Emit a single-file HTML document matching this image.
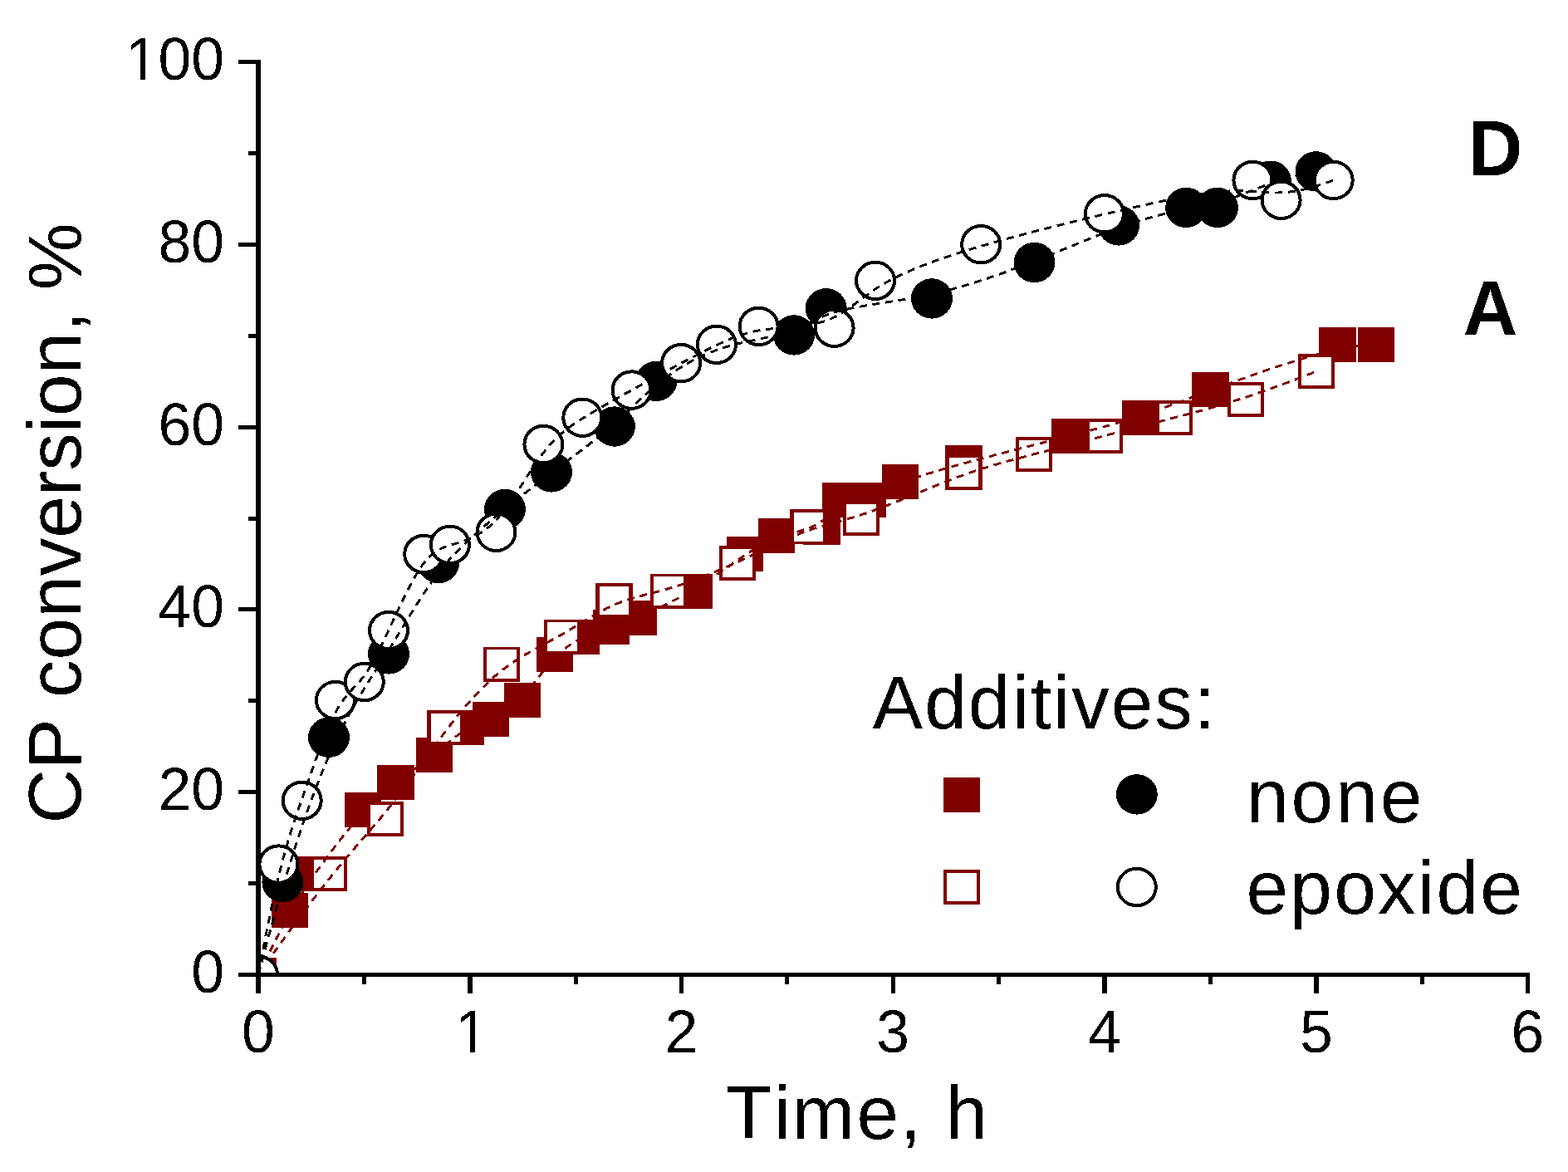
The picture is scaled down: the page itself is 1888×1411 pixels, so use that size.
<!DOCTYPE html>
<html><head><meta charset="utf-8"><title>CP conversion vs time</title>
<style>html,body{margin:0;padding:0;background:#fff;}svg{display:block;}</style></head>
<body><svg width="1888" height="1411" viewBox="0 0 1888 1411" shape-rendering="crispEdges">
<rect width="1888" height="1411" fill="#fff"/>
<defs><clipPath id="pa"><rect x="311" y="0" width="1600" height="1173.5"/></clipPath><filter id="bw" x="0" y="0" width="100%" height="100%" color-interpolation-filters="sRGB"><feComponentTransfer><feFuncA type="discrete" tableValues="0 1"/></feComponentTransfer></filter></defs>
<g clip-path="url(#pa)">
<rect x="288.9" y="1152.5" width="44.2" height="42.0" fill="#800000"/>
<rect x="326.8" y="1075.0" width="44.2" height="42.0" fill="#800000"/>
<rect x="355.9" y="1031.0" width="44.2" height="42.0" fill="#800000"/>
<rect x="414.8" y="953.8" width="44.2" height="42.0" fill="#800000"/>
<rect x="454.3" y="921.0" width="44.2" height="42.0" fill="#800000"/>
<rect x="500.5" y="888.0" width="44.2" height="42.0" fill="#800000"/>
<rect x="538.3" y="854.8" width="44.2" height="42.0" fill="#800000"/>
<rect x="569.0" y="844.5" width="44.2" height="42.0" fill="#800000"/>
<rect x="607.0" y="822.4" width="44.2" height="42.0" fill="#800000"/>
<rect x="645.6" y="766.8" width="44.2" height="42.0" fill="#800000"/>
<rect x="678.2" y="745.6" width="44.2" height="42.0" fill="#800000"/>
<rect x="713.5" y="734.4" width="44.2" height="42.0" fill="#800000"/>
<rect x="746.4" y="723.0" width="44.2" height="42.0" fill="#800000"/>
<rect x="814.1" y="690.7" width="44.2" height="42.0" fill="#800000"/>
<rect x="874.9" y="646.2" width="44.2" height="42.0" fill="#800000"/>
<rect x="912.9" y="624.3" width="44.2" height="42.0" fill="#800000"/>
<rect x="967.4" y="613.7" width="44.2" height="42.0" fill="#800000"/>
<rect x="990.4" y="580.5" width="44.2" height="42.0" fill="#800000"/>
<rect x="1023.2" y="580.9" width="44.2" height="42.0" fill="#800000"/>
<rect x="1062.0" y="558.8" width="44.2" height="42.0" fill="#800000"/>
<rect x="1138.3" y="536.2" width="44.2" height="42.0" fill="#800000"/>
<rect x="1265.6" y="503.9" width="44.2" height="42.0" fill="#800000"/>
<rect x="1350.5" y="481.7" width="44.2" height="42.0" fill="#800000"/>
<rect x="1435.4" y="448.3" width="44.2" height="42.0" fill="#800000"/>
<rect x="1588.4" y="393.9" width="44.2" height="42.0" fill="#800000"/>
<rect x="1634.9" y="393.9" width="44.2" height="42.0" fill="#800000"/>
<rect x="373.9" y="1031.0" width="44.2" height="42.0" fill="#800000"/><rect x="378.1" y="1034.9" width="35.8" height="34.2" fill="#fff"/>
<rect x="441.5" y="964.9" width="44.2" height="42.0" fill="#800000"/><rect x="445.7" y="968.8" width="35.8" height="34.2" fill="#fff"/>
<rect x="514.4" y="855.0" width="44.2" height="42.0" fill="#800000"/><rect x="518.6" y="858.9" width="35.8" height="34.2" fill="#fff"/>
<rect x="581.9" y="778.5" width="44.2" height="42.0" fill="#800000"/><rect x="586.1" y="782.4" width="35.8" height="34.2" fill="#fff"/>
<rect x="654.5" y="745.5" width="44.2" height="42.0" fill="#800000"/><rect x="658.7" y="749.4" width="35.8" height="34.2" fill="#fff"/>
<rect x="717.3" y="701.6" width="44.2" height="42.0" fill="#800000"/><rect x="721.5" y="705.5" width="35.8" height="34.2" fill="#fff"/>
<rect x="782.6" y="690.5" width="44.2" height="42.0" fill="#800000"/><rect x="786.8" y="694.4" width="35.8" height="34.2" fill="#fff"/>
<rect x="865.9" y="657.3" width="44.2" height="42.0" fill="#800000"/><rect x="870.1" y="661.2" width="35.8" height="34.2" fill="#fff"/>
<rect x="951.4" y="613.4" width="44.2" height="42.0" fill="#800000"/><rect x="955.6" y="617.3" width="35.8" height="34.2" fill="#fff"/>
<rect x="1014.9" y="602.9" width="44.2" height="42.0" fill="#800000"/><rect x="1019.1" y="606.8" width="35.8" height="34.2" fill="#fff"/>
<rect x="1138.3" y="547.5" width="44.2" height="42.0" fill="#800000"/><rect x="1142.5" y="551.4" width="35.8" height="34.2" fill="#fff"/>
<rect x="1222.7" y="526.0" width="44.2" height="42.0" fill="#800000"/><rect x="1226.9" y="529.9" width="35.8" height="34.2" fill="#fff"/>
<rect x="1307.7" y="503.7" width="44.2" height="42.0" fill="#800000"/><rect x="1311.9" y="507.6" width="35.8" height="34.2" fill="#fff"/>
<rect x="1392.0" y="481.7" width="44.2" height="42.0" fill="#800000"/><rect x="1396.2" y="485.6" width="35.8" height="34.2" fill="#fff"/>
<rect x="1477.9" y="459.7" width="44.2" height="42.0" fill="#800000"/><rect x="1482.1" y="463.6" width="35.8" height="34.2" fill="#fff"/>
<rect x="1562.8" y="426.2" width="44.2" height="42.0" fill="#800000"/><rect x="1567.0" y="430.1" width="35.8" height="34.2" fill="#fff"/>
<path d="M311.0,1173.5 L315.6,1164.1 L320.0,1155.2 L324.2,1146.9 L328.1,1139.1 L331.9,1131.8 L335.5,1124.9 L338.8,1118.4 L342.1,1112.4 L345.2,1106.7 L348.1,1101.4 L350.9,1096.4 L353.6,1091.7 L356.1,1087.3 L358.6,1083.1 L361.0,1079.2 L363.3,1075.5 L365.6,1072.0 L367.8,1068.6 L370.0,1065.3 L372.1,1062.2 L374.2,1059.1 L376.3,1056.1 L378.4,1053.1 L380.5,1050.1 L382.7,1047.1 L384.9,1044.1 L387.1,1041.1 L389.3,1038.1 L391.5,1035.1 L393.7,1032.0 L396.0,1029.0 L398.3,1026.0 L400.5,1023.0 L402.8,1020.0 L405.1,1017.0 L407.4,1014.1 L409.6,1011.2 L411.9,1008.3 L414.2,1005.5 L416.4,1002.7 L418.6,999.9 L420.9,997.2 L423.0,994.5 L425.2,991.9 L427.4,989.4 L429.5,986.9 L431.6,984.5 L433.7,982.2 L435.7,979.9 L437.7,977.8 L439.7,975.7 L441.6,973.6 L443.5,971.6 L445.4,969.7 L447.3,967.9 L449.1,966.1 L451.0,964.3 L452.8,962.6 L454.6,960.9 L456.4,959.3 L458.2,957.7 L459.9,956.2 L461.7,954.7 L463.4,953.2 L465.2,951.7 L466.9,950.3 L468.7,948.9 L470.4,947.5 L472.2,946.1 L474.0,944.7 L475.7,943.3 L477.5,942.0 L479.3,940.6 L481.1,939.2 L482.9,937.9 L484.7,936.5 L486.6,935.1 L488.4,933.7 L490.2,932.4 L492.1,931.0 L493.9,929.6 L495.8,928.2 L497.6,926.9 L499.5,925.5 L501.3,924.1 L503.2,922.7 L505.0,921.4 L506.8,920.0 L508.7,918.6 L510.5,917.2 L512.3,915.9 L514.1,914.5 L515.9,913.1 L517.7,911.7 L519.4,910.3 L521.2,909.0 L522.9,907.6 L524.7,906.2 L526.4,904.8 L528.1,903.5 L529.8,902.1 L531.4,900.7 L533.1,899.4 L534.7,898.1 L536.4,896.7 L538.0,895.4 L539.6,894.1 L541.2,892.9 L542.8,891.6 L544.3,890.4 L545.9,889.2 L547.4,888.0 L548.9,886.8 L550.4,885.7 L551.9,884.6 L553.4,883.5 L554.9,882.5 L556.3,881.5 L557.8,880.5 L559.2,879.6 L560.6,878.7 L562.0,877.9 L563.4,877.1 L564.8,876.3 L566.2,875.5 L567.6,874.8 L569.0,874.1 L570.3,873.4 L571.7,872.8 L573.0,872.1 L574.4,871.5 L575.8,870.9 L577.1,870.3 L578.5,869.7 L579.8,869.1 L581.2,868.5 L582.5,867.9 L583.9,867.3 L585.3,866.7 L586.7,866.1 L588.1,865.5 L589.5,864.8 L590.9,864.2 L592.3,863.5 L593.8,862.8 L595.2,862.1 L596.7,861.4 L598.1,860.7 L599.6,859.9 L601.1,859.1 L602.6,858.2 L604.1,857.3 L605.7,856.4 L607.2,855.5 L608.7,854.5 L610.3,853.5 L611.8,852.5 L613.4,851.4 L614.9,850.2 L616.5,849.0 L618.1,847.8 L619.7,846.5 L621.2,845.2 L622.8,843.8 L624.4,842.4 L626.0,840.9 L627.6,839.4 L629.2,837.8 L630.8,836.2 L632.4,834.5 L634.0,832.7 L635.6,830.9 L637.2,829.1 L638.8,827.2 L640.4,825.3 L642.0,823.4 L643.5,821.5 L645.1,819.5 L646.7,817.6 L648.3,815.6 L649.9,813.7 L651.4,811.7 L653.0,809.8 L654.5,807.8 L656.1,805.9 L657.6,804.0 L659.2,802.2 L660.7,800.4 L662.2,798.6 L663.7,796.8 L665.2,795.2 L666.7,793.5 L668.2,792.0 L669.6,790.5 L671.1,789.0 L672.6,787.6 L674.0,786.2 L675.4,784.9 L676.9,783.7 L678.3,782.5 L679.7,781.3 L681.1,780.2 L682.5,779.2 L683.9,778.1 L685.3,777.1 L686.7,776.2 L688.1,775.3 L689.5,774.4 L690.9,773.5 L692.3,772.7 L693.7,771.9 L695.1,771.1 L696.5,770.4 L697.9,769.7 L699.3,769.0 L700.8,768.3 L702.2,767.6 L703.6,767.0 L705.0,766.3 L706.4,765.7 L707.9,765.1 L709.3,764.5 L710.7,763.9 L712.2,763.4 L713.6,762.8 L715.1,762.3 L716.5,761.7 L718.0,761.2 L719.4,760.7 L720.8,760.2 L722.3,759.7 L723.7,759.2 L725.2,758.7 L726.6,758.2 L728.1,757.7 L729.5,757.3 L730.9,756.8 L732.4,756.3 L733.8,755.8 L735.2,755.4 L736.6,754.9 L738.0,754.4 L739.5,753.9 L740.9,753.5 L742.3,753.0 L743.7,752.5 L745.2,752.0 L746.7,751.5 L748.1,750.9 L749.6,750.4 L751.2,749.8 L752.7,749.3 L754.3,748.7 L755.9,748.1 L757.6,747.4 L759.2,746.8 L761.0,746.1 L762.7,745.4 L764.5,744.6 L766.4,743.9 L768.3,743.1 L770.2,742.3 L772.2,741.4 L774.3,740.5 L776.4,739.6 L778.6,738.6 L780.8,737.6 L783.1,736.6 L785.5,735.5 L787.9,734.4 L790.3,733.3 L792.7,732.1 L795.2,730.9 L797.8,729.7 L800.3,728.4 L802.9,727.2 L805.5,725.8 L808.2,724.5 L810.8,723.1 L813.5,721.7 L816.2,720.3 L818.9,718.9 L821.6,717.4 L824.3,715.9 L827.0,714.4 L829.7,712.8 L832.4,711.3 L835.0,709.7 L837.7,708.1 L840.4,706.4 L843.0,704.8 L845.7,703.1 L848.3,701.5 L850.9,699.8 L853.4,698.1 L856.0,696.4 L858.5,694.7 L861.0,693.0 L863.5,691.3 L866.0,689.7 L868.4,688.0 L870.8,686.3 L873.2,684.7 L875.6,683.1 L877.9,681.5 L880.2,679.9 L882.4,678.3 L884.7,676.8 L886.9,675.3 L889.0,673.8 L891.1,672.4 L893.2,671.0 L895.2,669.6 L897.2,668.3 L899.2,667.0 L901.1,665.7 L903.1,664.5 L904.9,663.3 L906.8,662.2 L908.6,661.1 L910.5,660.0 L912.3,659.0 L914.1,657.9 L915.9,657.0 L917.7,656.0 L919.4,655.1 L921.2,654.2 L923.0,653.3 L924.8,652.5 L926.6,651.6 L928.4,650.8 L930.2,650.1 L932.1,649.3 L933.9,648.6 L935.8,647.9 L937.7,647.2 L939.7,646.5 L941.7,645.9 L943.6,645.2 L945.7,644.6 L947.7,644.0 L949.7,643.4 L951.7,642.8 L953.8,642.2 L955.8,641.6 L957.9,641.0 L959.9,640.4 L961.9,639.8 L964.0,639.1 L965.9,638.5 L967.9,637.9 L969.9,637.2 L971.8,636.5 L973.7,635.8 L975.6,635.1 L977.4,634.3 L979.2,633.5 L980.9,632.7 L982.6,631.8 L984.2,630.9 L985.8,630.0 L987.4,629.0 L988.9,628.0 L990.3,627.0 L991.7,626.0 L993.1,624.9 L994.4,623.8 L995.7,622.7 L996.9,621.6 L998.2,620.5 L999.4,619.4 L1000.5,618.3 L1001.7,617.2 L1002.9,616.2 L1004.0,615.1 L1005.1,614.1 L1006.2,613.1 L1007.4,612.1 L1008.5,611.2 L1009.6,610.3 L1010.7,609.4 L1011.8,608.6 L1013.0,607.8 L1014.1,607.1 L1015.3,606.4 L1016.5,605.8 L1017.7,605.3 L1018.9,604.8 L1020.2,604.3 L1021.4,603.9 L1022.7,603.5 L1024.0,603.2 L1025.3,602.8 L1026.6,602.5 L1027.9,602.2 L1029.2,601.9 L1030.6,601.7 L1031.9,601.4 L1033.3,601.1 L1034.7,600.9 L1036.1,600.6 L1037.5,600.3 L1039.0,600.0 L1040.4,599.7 L1041.9,599.3 L1043.3,599.0 L1044.8,598.6 L1046.3,598.1 L1047.8,597.7 L1049.3,597.2 L1050.8,596.6 L1052.4,596.0 L1053.9,595.4 L1055.5,594.8 L1057.1,594.1 L1058.8,593.4 L1060.4,592.7 L1062.1,591.9 L1063.8,591.2 L1065.6,590.4 L1067.4,589.6 L1069.2,588.7 L1071.1,587.9 L1073.1,587.0 L1075.0,586.1 L1077.1,585.2 L1079.1,584.3 L1081.3,583.4 L1083.4,582.5 L1085.7,581.6 L1088.0,580.6 L1090.3,579.7 L1092.8,578.8 L1095.3,577.9 L1097.8,576.9 L1100.5,576.0 L1103.2,575.0 L1105.9,574.1 L1108.8,573.1 L1111.7,572.2 L1114.7,571.2 L1117.7,570.2 L1120.9,569.3 L1124.1,568.3 L1127.4,567.3 L1130.7,566.3 L1134.2,565.3 L1137.7,564.3 L1141.3,563.2 L1145.0,562.2 L1148.8,561.1 L1152.6,560.0 L1156.6,558.9 L1160.6,557.8 L1164.7,556.7 L1168.9,555.6 L1173.2,554.4 L1177.6,553.3 L1182.0,552.1 L1186.5,550.9 L1191.1,549.7 L1195.7,548.5 L1200.4,547.2 L1205.1,546.0 L1209.8,544.8 L1214.6,543.5 L1219.4,542.3 L1224.2,541.1 L1229.0,539.8 L1233.9,538.6 L1238.7,537.3 L1243.5,536.1 L1248.3,534.9 L1253.0,533.7 L1257.7,532.4 L1262.4,531.2 L1267.1,530.1 L1271.7,528.9 L1276.2,527.7 L1280.6,526.6 L1285.0,525.5 L1289.3,524.3 L1293.6,523.2 L1297.8,522.2 L1301.9,521.1 L1305.9,520.0 L1310.0,519.0 L1313.9,517.9 L1317.8,516.9 L1321.7,515.8 L1325.5,514.8 L1329.3,513.8 L1333.0,512.7 L1336.7,511.7 L1340.4,510.7 L1344.0,509.6 L1347.7,508.6 L1351.3,507.5 L1354.8,506.4 L1358.4,505.3 L1362.0,504.2 L1365.5,503.1 L1369.1,502.0 L1372.6,500.8 L1376.1,499.7 L1379.7,498.5 L1383.3,497.3 L1386.9,496.0 L1390.5,494.7 L1394.2,493.4 L1398.0,492.1 L1401.8,490.7 L1405.7,489.3 L1409.7,487.8 L1413.8,486.3 L1418.1,484.8 L1422.4,483.2 L1426.9,481.5 L1431.5,479.8 L1436.3,478.0 L1441.3,476.1 L1446.4,474.2 L1451.8,472.3 L1457.3,470.2 L1463.0,468.1 L1469.0,465.9 L1475.2,463.6 L1481.6,461.3 L1488.3,458.8 L1495.2,456.3 L1502.3,453.8 L1509.6,451.2 L1517.0,448.6 L1524.6,445.9 L1532.3,443.3 L1540.0,440.7 L1547.9,438.2 L1555.7,435.7 L1563.6,433.2 L1571.5,430.9 L1579.4,428.6 L1587.2,426.5 L1594.9,424.5 L1602.5,422.7 L1610.0,421.0 L1617.3,419.4 L1624.5,418.1 L1631.5,417.0 L1638.3,416.1 L1644.8,415.4 L1651.0,415.0 L1657.0,414.9" fill="none" stroke="#800000" stroke-width="2.9" stroke-dasharray="9 6.7"/>
<path d="M311.0,1173.5 L321.4,1158.8 L331.2,1144.9 L340.6,1131.9 L349.4,1119.7 L357.9,1108.3 L365.9,1097.5 L373.5,1087.5 L380.7,1078.1 L387.5,1069.4 L393.9,1061.2 L400.1,1053.5 L405.9,1046.3 L411.4,1039.6 L416.7,1033.3 L421.7,1027.3 L426.5,1021.7 L431.1,1016.4 L435.4,1011.3 L439.7,1006.5 L443.7,1001.8 L447.6,997.3 L451.5,992.8 L455.2,988.5 L458.9,984.1 L462.5,979.7 L466.0,975.4 L469.5,971.0 L473.0,966.6 L476.4,962.2 L479.8,957.8 L483.2,953.3 L486.5,948.9 L489.7,944.5 L493.0,940.2 L496.2,935.8 L499.3,931.4 L502.5,927.1 L505.6,922.8 L508.7,918.5 L511.8,914.2 L514.8,910.0 L517.8,905.8 L520.8,901.6 L523.8,897.5 L526.8,893.5 L529.7,889.4 L532.7,885.5 L535.6,881.6 L538.5,877.7 L541.4,873.9 L544.3,870.2 L547.2,866.5 L550.1,862.9 L553.0,859.3 L555.9,855.8 L558.8,852.4 L561.6,849.1 L564.5,845.8 L567.4,842.5 L570.2,839.4 L573.1,836.3 L576.0,833.2 L578.8,830.3 L581.7,827.4 L584.6,824.5 L587.5,821.8 L590.4,819.1 L593.2,816.5 L596.1,813.9 L599.0,811.5 L601.9,809.1 L604.8,806.8 L607.8,804.5 L610.7,802.3 L613.6,800.2 L616.6,798.2 L619.5,796.2 L622.5,794.3 L625.4,792.4 L628.4,790.6 L631.3,788.8 L634.3,787.1 L637.3,785.4 L640.2,783.7 L643.1,782.0 L646.1,780.4 L649.0,778.8 L651.9,777.2 L654.9,775.7 L657.8,774.1 L660.7,772.5 L663.6,771.0 L666.4,769.4 L669.3,767.9 L672.1,766.3 L675.0,764.7 L677.8,763.1 L680.6,761.4 L683.4,759.8 L686.1,758.2 L688.9,756.5 L691.6,754.8 L694.3,753.2 L697.1,751.5 L699.8,749.9 L702.5,748.2 L705.2,746.6 L707.8,745.0 L710.5,743.4 L713.2,741.8 L715.9,740.3 L718.5,738.8 L721.2,737.3 L723.9,735.9 L726.5,734.4 L729.2,733.1 L731.8,731.7 L734.5,730.5 L737.1,729.2 L739.8,728.1 L742.5,726.9 L745.2,725.9 L747.8,724.9 L750.5,723.9 L753.2,723.0 L755.9,722.1 L758.7,721.2 L761.4,720.4 L764.1,719.6 L766.9,718.8 L769.7,718.0 L772.5,717.3 L775.3,716.5 L778.1,715.8 L781.0,715.1 L783.8,714.3 L786.7,713.6 L789.6,712.8 L792.6,712.0 L795.6,711.2 L798.5,710.4 L801.6,709.6 L804.6,708.7 L807.7,707.8 L810.8,706.9 L814.0,705.9 L817.1,704.9 L820.3,703.8 L823.5,702.7 L826.8,701.6 L830.1,700.5 L833.4,699.3 L836.7,698.1 L840.0,696.8 L843.4,695.5 L846.8,694.2 L850.2,692.9 L853.6,691.5 L857.0,690.1 L860.5,688.7 L863.9,687.3 L867.4,685.8 L870.9,684.3 L874.3,682.8 L877.8,681.2 L881.3,679.7 L884.9,678.1 L888.4,676.5 L891.9,674.9 L895.4,673.3 L898.9,671.6 L902.4,670.0 L906.0,668.3 L909.5,666.7 L913.0,665.0 L916.5,663.3 L920.0,661.7 L923.4,660.1 L926.9,658.4 L930.3,656.8 L933.8,655.2 L937.2,653.7 L940.6,652.1 L943.9,650.6 L947.3,649.1 L950.6,647.7 L953.9,646.3 L957.1,644.9 L960.4,643.6 L963.6,642.3 L966.7,641.1 L969.8,640.0 L972.9,638.9 L976.0,637.8 L979.0,636.8 L982.0,635.8 L985.0,634.9 L988.0,634.0 L991.0,633.1 L993.9,632.3 L996.9,631.4 L1000.0,630.6 L1003.0,629.8 L1006.0,628.9 L1009.1,628.1 L1012.3,627.2 L1015.4,626.3 L1018.7,625.4 L1021.9,624.4 L1025.3,623.5 L1028.7,622.4 L1032.2,621.3 L1035.7,620.2 L1039.4,619.0 L1043.1,617.8 L1047.0,616.4 L1050.9,615.0 L1055.0,613.5 L1059.1,612.0 L1063.3,610.4 L1067.6,608.7 L1072.0,607.0 L1076.4,605.2 L1080.9,603.4 L1085.4,601.6 L1089.9,599.7 L1094.5,597.9 L1099.1,596.0 L1103.8,594.1 L1108.4,592.2 L1113.1,590.3 L1117.7,588.4 L1122.3,586.5 L1127.0,584.6 L1131.6,582.8 L1136.1,581.0 L1140.6,579.2 L1145.1,577.5 L1149.5,575.8 L1153.9,574.1 L1158.2,572.6 L1162.4,571.1 L1166.6,569.6 L1170.7,568.2 L1174.8,566.8 L1178.8,565.5 L1182.7,564.2 L1186.6,563.0 L1190.5,561.8 L1194.3,560.7 L1198.1,559.5 L1201.8,558.4 L1205.5,557.4 L1209.2,556.3 L1212.8,555.3 L1216.5,554.3 L1220.1,553.4 L1223.6,552.4 L1227.2,551.5 L1230.8,550.5 L1234.3,549.6 L1237.8,548.7 L1241.4,547.8 L1244.9,546.9 L1248.4,546.0 L1252.0,545.0 L1255.5,544.1 L1259.0,543.2 L1262.6,542.3 L1266.1,541.4 L1269.6,540.4 L1273.2,539.5 L1276.7,538.6 L1280.2,537.7 L1283.8,536.8 L1287.3,535.8 L1290.8,534.9 L1294.4,534.0 L1297.9,533.1 L1301.4,532.1 L1305.0,531.2 L1308.5,530.3 L1312.0,529.4 L1315.6,528.4 L1319.1,527.5 L1322.6,526.6 L1326.2,525.7 L1329.7,524.8 L1333.2,523.8 L1336.7,522.9 L1340.3,522.0 L1343.8,521.1 L1347.4,520.1 L1350.9,519.2 L1354.5,518.3 L1358.1,517.3 L1361.8,516.4 L1365.4,515.4 L1369.1,514.4 L1372.9,513.5 L1376.6,512.5 L1380.4,511.5 L1384.3,510.5 L1388.2,509.5 L1392.1,508.5 L1396.2,507.4 L1400.2,506.4 L1404.3,505.3 L1408.5,504.2 L1412.8,503.1 L1417.1,502.0 L1421.5,500.9 L1426.0,499.7 L1430.6,498.5 L1435.3,497.3 L1440.1,496.0 L1445.0,494.7 L1450.1,493.3 L1455.4,491.9 L1460.8,490.3 L1466.4,488.7 L1472.3,487.0 L1478.4,485.1 L1484.7,483.2 L1491.3,481.1 L1498.1,478.9 L1505.3,476.5 L1512.7,474.0 L1520.5,471.3 L1528.6,468.4 L1537.0,465.4 L1545.8,462.2 L1555.0,458.7 L1564.5,455.1 L1574.5,451.3 L1584.9,447.2" fill="none" stroke="#800000" stroke-width="2.9" stroke-dasharray="9 6.7"/>
<ellipse cx="340.4" cy="1062.1" rx="25.0" ry="24.2" fill="#000"/>
<ellipse cx="396.0" cy="887.7" rx="25.0" ry="24.2" fill="#000"/>
<ellipse cx="468.0" cy="787.4" rx="25.0" ry="24.2" fill="#000"/>
<ellipse cx="528.0" cy="678.1" rx="25.0" ry="24.2" fill="#000"/>
<ellipse cx="607.9" cy="613.0" rx="25.0" ry="24.2" fill="#000"/>
<ellipse cx="664.0" cy="568.4" rx="25.0" ry="24.2" fill="#000"/>
<ellipse cx="739.9" cy="513.5" rx="25.0" ry="24.2" fill="#000"/>
<ellipse cx="790.3" cy="458.8" rx="25.0" ry="24.2" fill="#000"/>
<ellipse cx="956.0" cy="403.4" rx="25.0" ry="24.2" fill="#000"/>
<ellipse cx="994.7" cy="371.3" rx="25.0" ry="24.2" fill="#000"/>
<ellipse cx="1122.0" cy="359.4" rx="25.0" ry="24.2" fill="#000"/>
<ellipse cx="1245.5" cy="316.0" rx="25.0" ry="24.2" fill="#000"/>
<ellipse cx="1347.0" cy="271.4" rx="25.0" ry="24.2" fill="#000"/>
<ellipse cx="1428.2" cy="249.9" rx="25.0" ry="24.2" fill="#000"/>
<ellipse cx="1465.9" cy="249.9" rx="25.0" ry="24.2" fill="#000"/>
<ellipse cx="1529.9" cy="217.7" rx="25.0" ry="24.2" fill="#000"/>
<ellipse cx="1584.5" cy="206.4" rx="25.0" ry="24.2" fill="#000"/>
<ellipse cx="311.0" cy="1173.5" rx="23.0" ry="22.2" fill="#fff" stroke="#000" stroke-width="4.0"/>
<ellipse cx="335.4" cy="1040.6" rx="23.0" ry="22.2" fill="#fff" stroke="#000" stroke-width="4.0"/>
<ellipse cx="363.7" cy="963.8" rx="23.0" ry="22.2" fill="#fff" stroke="#000" stroke-width="4.0"/>
<ellipse cx="403.9" cy="843.0" rx="23.0" ry="22.2" fill="#fff" stroke="#000" stroke-width="4.0"/>
<ellipse cx="438.8" cy="821.0" rx="23.0" ry="22.2" fill="#fff" stroke="#000" stroke-width="4.0"/>
<ellipse cx="468.0" cy="759.0" rx="23.0" ry="22.2" fill="#fff" stroke="#000" stroke-width="4.0"/>
<ellipse cx="510.2" cy="667.0" rx="23.0" ry="22.2" fill="#fff" stroke="#000" stroke-width="4.0"/>
<ellipse cx="541.9" cy="655.9" rx="23.0" ry="22.2" fill="#fff" stroke="#000" stroke-width="4.0"/>
<ellipse cx="597.5" cy="640.8" rx="23.0" ry="22.2" fill="#fff" stroke="#000" stroke-width="4.0"/>
<ellipse cx="654.4" cy="535.0" rx="23.0" ry="22.2" fill="#fff" stroke="#000" stroke-width="4.0"/>
<ellipse cx="701.3" cy="502.7" rx="23.0" ry="22.2" fill="#fff" stroke="#000" stroke-width="4.0"/>
<ellipse cx="760.5" cy="469.6" rx="23.0" ry="22.2" fill="#fff" stroke="#000" stroke-width="4.0"/>
<ellipse cx="820.1" cy="437.1" rx="23.0" ry="22.2" fill="#fff" stroke="#000" stroke-width="4.0"/>
<ellipse cx="862.9" cy="414.8" rx="23.0" ry="22.2" fill="#fff" stroke="#000" stroke-width="4.0"/>
<ellipse cx="913.6" cy="392.9" rx="23.0" ry="22.2" fill="#fff" stroke="#000" stroke-width="4.0"/>
<ellipse cx="1004.6" cy="394.7" rx="23.0" ry="22.2" fill="#fff" stroke="#000" stroke-width="4.0"/>
<ellipse cx="1054.0" cy="337.9" rx="23.0" ry="22.2" fill="#fff" stroke="#000" stroke-width="4.0"/>
<ellipse cx="1181.2" cy="294.2" rx="23.0" ry="22.2" fill="#fff" stroke="#000" stroke-width="4.0"/>
<ellipse cx="1329.9" cy="257.3" rx="23.0" ry="22.2" fill="#fff" stroke="#000" stroke-width="4.0"/>
<ellipse cx="1508.4" cy="217.0" rx="23.0" ry="22.2" fill="#fff" stroke="#000" stroke-width="4.0"/>
<ellipse cx="1542.6" cy="240.8" rx="23.0" ry="22.2" fill="#fff" stroke="#000" stroke-width="4.0"/>
<ellipse cx="1605.7" cy="217.0" rx="23.0" ry="22.2" fill="#fff" stroke="#000" stroke-width="4.0"/>
<path d="M311.0,1173.5 L314.7,1159.7 L318.3,1146.2 L321.9,1132.9 L325.6,1119.8 L329.2,1107.1 L332.7,1094.5 L336.3,1082.3 L339.9,1070.3 L343.4,1058.5 L346.9,1047.0 L350.4,1035.8 L353.9,1024.9 L357.3,1014.2 L360.8,1003.8 L364.2,993.6 L367.6,983.8 L371.0,974.2 L374.3,964.8 L377.7,955.8 L381.0,947.0 L384.3,938.5 L387.6,930.2 L390.9,922.3 L394.1,914.6 L397.3,907.2 L400.5,900.0 L403.7,893.2 L406.9,886.5 L410.0,880.1 L413.2,873.9 L416.3,868.0 L419.4,862.2 L422.4,856.6 L425.5,851.1 L428.5,845.9 L431.5,840.7 L434.5,835.7 L437.5,830.8 L440.4,826.1 L443.3,821.4 L446.2,816.8 L449.1,812.3 L452.0,807.8 L454.8,803.4 L457.7,799.0 L460.5,794.6 L463.2,790.3 L466.0,785.9 L468.7,781.5 L471.5,777.1 L474.2,772.7 L476.9,768.3 L479.5,764.0 L482.2,759.6 L484.9,755.2 L487.5,750.8 L490.2,746.4 L492.8,742.1 L495.5,737.8 L498.2,733.5 L500.8,729.2 L503.5,725.0 L506.2,720.8 L508.9,716.7 L511.6,712.6 L514.4,708.5 L517.1,704.5 L519.9,700.6 L522.7,696.7 L525.6,692.9 L528.4,689.1 L531.3,685.5 L534.2,681.9 L537.2,678.4 L540.2,674.9 L543.2,671.5 L546.3,668.2 L549.3,665.0 L552.4,661.8 L555.5,658.7 L558.6,655.7 L561.7,652.7 L564.8,649.8 L567.9,646.9 L571.0,644.1 L574.1,641.3 L577.1,638.6 L580.2,636.0 L583.3,633.4 L586.3,630.8 L589.3,628.3 L592.3,625.9 L595.3,623.4 L598.2,621.1 L601.1,618.7 L603.9,616.4 L606.7,614.1 L609.5,611.9 L612.3,609.7 L615.0,607.5 L617.6,605.4 L620.3,603.3 L622.9,601.2 L625.5,599.1 L628.1,597.0 L630.7,595.0 L633.3,592.9 L635.9,590.9 L638.4,588.9 L641.0,586.9 L643.6,584.9 L646.1,582.9 L648.7,580.9 L651.3,578.9 L653.9,576.9 L656.5,574.9 L659.2,572.8 L661.9,570.8 L664.6,568.7 L667.3,566.7 L670.1,564.6 L672.9,562.5 L675.7,560.4 L678.5,558.3 L681.4,556.1 L684.3,554.0 L687.2,551.8 L690.1,549.6 L693.0,547.4 L696.0,545.2 L698.9,543.0 L701.8,540.7 L704.8,538.5 L707.7,536.3 L710.6,534.0 L713.5,531.7 L716.3,529.5 L719.2,527.2 L722.0,524.9 L724.8,522.7 L727.6,520.4 L730.3,518.1 L733.0,515.8 L735.6,513.5 L738.3,511.3 L740.8,509.0 L743.4,506.7 L745.9,504.4 L748.3,502.1 L750.8,499.9 L753.2,497.6 L755.6,495.3 L758.0,493.1 L760.3,490.8 L762.7,488.6 L765.0,486.4 L767.4,484.2 L769.7,481.9 L772.1,479.7 L774.4,477.6 L776.8,475.4 L779.2,473.2 L781.6,471.1 L784.0,468.9 L786.5,466.8 L788.9,464.7 L791.5,462.6 L794.0,460.6 L796.6,458.5 L799.2,456.5 L801.9,454.5 L804.6,452.5 L807.3,450.6 L810.1,448.6 L812.9,446.7 L815.7,444.9 L818.6,443.0 L821.5,441.2 L824.5,439.4 L827.5,437.7 L830.5,436.0 L833.6,434.3 L836.7,432.7 L839.8,431.1 L843.0,429.6 L846.2,428.1 L849.5,426.7 L852.8,425.3 L856.1,423.9 L859.5,422.7 L862.9,421.4 L866.3,420.2 L869.8,419.1 L873.3,418.0 L876.8,417.0 L880.4,416.0 L883.9,415.1 L887.5,414.2 L891.0,413.3 L894.6,412.5 L898.2,411.7 L901.7,410.9 L905.2,410.1 L908.7,409.3 L912.2,408.6 L915.7,407.9 L919.1,407.1 L922.4,406.4 L925.7,405.6 L929.0,404.9 L932.1,404.1 L935.3,403.3 L938.3,402.5 L941.3,401.7 L944.1,400.8 L946.9,399.9 L949.6,399.0 L952.2,398.1 L954.8,397.1 L957.3,396.1 L959.7,395.0 L962.1,394.0 L964.4,392.9 L966.8,391.8 L969.1,390.7 L971.4,389.6 L973.7,388.5 L976.1,387.3 L978.4,386.2 L980.9,385.1 L983.3,384.0 L985.8,382.9 L988.4,381.8 L991.1,380.7 L993.9,379.6 L996.8,378.6 L999.7,377.6 L1002.8,376.6 L1006.1,375.6 L1009.5,374.7 L1013.0,373.8 L1016.7,372.9 L1020.5,372.1 L1024.5,371.2 L1028.5,370.4 L1032.7,369.7 L1037.1,368.9 L1041.5,368.1 L1046.0,367.4 L1050.6,366.6 L1055.3,365.9 L1060.1,365.1 L1065.0,364.3 L1069.9,363.6 L1074.9,362.8 L1079.9,361.9 L1085.0,361.1 L1090.1,360.2 L1095.3,359.3 L1100.5,358.4 L1105.7,357.4 L1110.9,356.3 L1116.1,355.3 L1121.4,354.1 L1126.6,353.0 L1131.8,351.7 L1137.0,350.5 L1142.2,349.1 L1147.4,347.8 L1152.6,346.3 L1157.7,344.9 L1162.8,343.4 L1168.0,341.8 L1173.1,340.3 L1178.2,338.7 L1183.2,337.0 L1188.3,335.4 L1193.3,333.7 L1198.3,331.9 L1203.2,330.2 L1208.2,328.5 L1213.1,326.7 L1217.9,324.9 L1222.8,323.1 L1227.6,321.3 L1232.4,319.5 L1237.1,317.6 L1241.8,315.8 L1246.5,314.0 L1251.1,312.1 L1255.7,310.3 L1260.3,308.5 L1264.8,306.6 L1269.3,304.8 L1273.7,303.0 L1278.1,301.2 L1282.5,299.4 L1286.8,297.7 L1291.1,295.9 L1295.4,294.2 L1299.6,292.4 L1303.8,290.7 L1307.9,289.1 L1312.0,287.4 L1316.1,285.8 L1320.1,284.2 L1324.1,282.6 L1328.1,281.1 L1332.0,279.6 L1335.9,278.1 L1339.8,276.6 L1343.6,275.2 L1347.4,273.9 L1351.2,272.6 L1354.9,271.3 L1358.5,270.1 L1362.2,268.9 L1365.8,267.7 L1369.3,266.6 L1372.8,265.5 L1376.2,264.5 L1379.6,263.5 L1383.0,262.5 L1386.3,261.6 L1389.5,260.7 L1392.7,259.8 L1395.8,259.0 L1398.9,258.3 L1401.9,257.5 L1404.8,256.8 L1407.7,256.2 L1410.5,255.6 L1413.2,255.0 L1415.8,254.5 L1418.4,253.9 L1420.9,253.5 L1423.4,253.1 L1425.8,252.7 L1428.1,252.3 L1430.3,251.9 L1432.5,251.6 L1434.7,251.3 L1436.9,251.0 L1439.0,250.7 L1441.1,250.4 L1443.2,250.0 L1445.3,249.7 L1447.4,249.3 L1449.5,249.0 L1451.6,248.6 L1453.8,248.1 L1455.9,247.6 L1458.2,247.1 L1460.5,246.6 L1462.8,245.9 L1465.2,245.3 L1467.7,244.5 L1470.2,243.7 L1472.9,242.8 L1475.6,241.8 L1478.5,240.8 L1481.4,239.7 L1484.5,238.5 L1487.6,237.2 L1490.9,235.9 L1494.4,234.5 L1497.9,233.1 L1501.6,231.6 L1505.5,230.1 L1509.5,228.5 L1513.6,226.9 L1517.9,225.3 L1522.4,223.7 L1527.1,222.1 L1531.9,220.5 L1537.0,218.8 L1542.2,217.2 L1547.6,215.6 L1553.2,214.0 L1559.0,212.4 L1565.1,210.8 L1571.3,209.3 L1577.8,207.8 L1584.5,206.4" fill="none" stroke="#000000" stroke-width="2.9" stroke-dasharray="9 6.7"/>
<path d="M311.0,1173.5 L314.0,1157.4 L316.9,1142.2 L319.7,1127.9 L322.4,1114.5 L325.0,1101.9 L327.5,1090.1 L330.0,1079.0 L332.3,1068.6 L334.6,1058.8 L336.9,1049.7 L339.0,1041.1 L341.1,1033.1 L343.2,1025.6 L345.2,1018.5 L347.1,1011.8 L349.1,1005.4 L350.9,999.4 L352.8,993.7 L354.6,988.2 L356.4,982.9 L358.1,977.8 L359.9,972.7 L361.6,967.8 L363.3,962.9 L365.0,957.9 L366.8,953.0 L368.5,948.1 L370.2,943.2 L371.9,938.3 L373.6,933.5 L375.3,928.6 L377.0,923.9 L378.6,919.1 L380.3,914.5 L382.0,909.9 L383.6,905.3 L385.3,900.9 L386.9,896.5 L388.6,892.3 L390.2,888.1 L391.9,884.1 L393.5,880.1 L395.1,876.3 L396.7,872.7 L398.3,869.1 L399.9,865.7 L401.4,862.5 L403.0,859.5 L404.6,856.6 L406.1,853.8 L407.7,851.3 L409.2,848.8 L410.7,846.5 L412.2,844.3 L413.7,842.3 L415.2,840.3 L416.7,838.4 L418.2,836.6 L419.7,834.9 L421.1,833.2 L422.6,831.6 L424.0,830.0 L425.4,828.5 L426.9,827.0 L428.3,825.5 L429.7,823.9 L431.0,822.4 L432.4,820.9 L433.8,819.3 L435.2,817.7 L436.5,816.1 L437.8,814.3 L439.2,812.5 L440.5,810.7 L441.8,808.8 L443.1,806.8 L444.4,804.7 L445.7,802.6 L447.0,800.4 L448.3,798.2 L449.6,795.9 L450.9,793.5 L452.2,791.0 L453.6,788.5 L454.9,786.0 L456.2,783.4 L457.5,780.7 L458.9,777.9 L460.2,775.1 L461.6,772.3 L463.0,769.4 L464.4,766.4 L465.8,763.4 L467.2,760.3 L468.7,757.2 L470.2,754.0 L471.7,750.8 L473.2,747.5 L474.7,744.2 L476.3,740.8 L477.9,737.5 L479.4,734.1 L481.0,730.7 L482.6,727.4 L484.3,724.0 L485.9,720.6 L487.5,717.3 L489.2,714.1 L490.8,710.8 L492.4,707.6 L494.1,704.5 L495.7,701.5 L497.3,698.5 L498.9,695.6 L500.6,692.8 L502.2,690.1 L503.8,687.5 L505.3,685.0 L506.9,682.7 L508.4,680.5 L510.0,678.4 L511.5,676.5 L513.0,674.6 L514.5,672.9 L516.0,671.4 L517.4,669.9 L518.9,668.5 L520.4,667.3 L521.9,666.1 L523.3,665.0 L524.8,664.0 L526.3,663.1 L527.8,662.2 L529.4,661.4 L530.9,660.6 L532.4,659.9 L534.0,659.2 L535.6,658.6 L537.3,658.0 L538.9,657.4 L540.6,656.9 L542.3,656.3 L544.1,655.8 L545.9,655.2 L547.7,654.7 L549.6,654.1 L551.5,653.5 L553.5,652.9 L555.5,652.3 L557.5,651.6 L559.5,650.9 L561.6,650.1 L563.7,649.3 L565.9,648.4 L568.0,647.4 L570.2,646.4 L572.4,645.3 L574.7,644.0 L576.9,642.7 L579.2,641.3 L581.5,639.8 L583.8,638.2 L586.1,636.4 L588.4,634.6 L590.7,632.6 L593.0,630.4 L595.4,628.1 L597.7,625.7 L600.1,623.1 L602.4,620.3 L604.8,617.5 L607.1,614.5 L609.4,611.4 L611.8,608.2 L614.1,604.9 L616.5,601.5 L618.8,598.1 L621.1,594.6 L623.5,591.1 L625.8,587.5 L628.1,584.0 L630.4,580.4 L632.7,576.9 L634.9,573.3 L637.2,569.8 L639.5,566.4 L641.7,563.0 L644.0,559.7 L646.2,556.4 L648.4,553.2 L650.6,550.2 L652.7,547.2 L654.9,544.4 L657.0,541.7 L659.1,539.2 L661.3,536.7 L663.4,534.3 L665.5,532.1 L667.5,529.9 L669.6,527.9 L671.7,525.9 L673.8,524.0 L675.8,522.1 L677.9,520.4 L680.0,518.7 L682.0,517.0 L684.1,515.4 L686.2,513.9 L688.3,512.4 L690.4,510.9 L692.5,509.5 L694.7,508.1 L696.8,506.7 L699.0,505.3 L701.1,503.9 L703.3,502.6 L705.6,501.2 L707.8,499.8 L710.1,498.5 L712.4,497.1 L714.7,495.7 L717.0,494.4 L719.3,493.0 L721.6,491.6 L724.0,490.3 L726.4,488.9 L728.8,487.5 L731.2,486.1 L733.6,484.8 L736.0,483.4 L738.4,482.0 L740.9,480.7 L743.3,479.3 L745.8,477.9 L748.2,476.5 L750.7,475.2 L753.1,473.8 L755.6,472.4 L758.1,471.1 L760.6,469.7 L763.0,468.3 L765.5,467.0 L768.0,465.6 L770.5,464.2 L772.9,462.9 L775.4,461.5 L777.8,460.2 L780.3,458.9 L782.7,457.5 L785.1,456.2 L787.6,454.9 L790.0,453.6 L792.3,452.3 L794.7,451.0 L797.1,449.7 L799.4,448.4 L801.7,447.2 L804.0,445.9 L806.3,444.7 L808.5,443.5 L810.8,442.3 L813.0,441.1 L815.2,440.0 L817.3,438.8 L819.4,437.7 L821.5,436.6 L823.6,435.5 L825.6,434.4 L827.6,433.3 L829.6,432.2 L831.6,431.2 L833.6,430.2 L835.5,429.2 L837.5,428.2 L839.4,427.2 L841.3,426.2 L843.2,425.2 L845.1,424.2 L847.0,423.3 L848.9,422.3 L850.8,421.4 L852.7,420.4 L854.6,419.5 L856.5,418.6 L858.4,417.6 L860.3,416.7 L862.3,415.8 L864.2,414.9 L866.2,413.9 L868.1,413.0 L870.1,412.1 L872.1,411.2 L874.2,410.3 L876.2,409.4 L878.3,408.5 L880.4,407.7 L882.6,406.8 L884.8,406.0 L887.0,405.2 L889.3,404.4 L891.6,403.6 L893.9,402.8 L896.3,402.1 L898.7,401.4 L901.2,400.7 L903.8,400.0 L906.4,399.4 L909.0,398.8 L911.8,398.3 L914.5,397.8 L917.4,397.3 L920.3,396.8 L923.3,396.5 L926.4,396.1 L929.5,395.8 L932.6,395.4 L935.8,395.1 L939.1,394.9 L942.4,394.6 L945.7,394.3 L949.0,394.0 L952.3,393.7 L955.7,393.4 L959.1,393.1 L962.4,392.7 L965.8,392.3 L969.1,391.8 L972.5,391.4 L975.8,390.8 L979.0,390.2 L982.3,389.5 L985.5,388.8 L988.6,387.9 L991.7,387.0 L994.7,386.0 L997.7,384.9 L1000.6,383.7 L1003.4,382.4 L1006.2,381.1 L1008.9,379.6 L1011.6,378.0 L1014.2,376.4 L1016.9,374.7 L1019.5,373.0 L1022.1,371.1 L1024.7,369.3 L1027.4,367.3 L1030.1,365.4 L1032.8,363.3 L1035.5,361.3 L1038.3,359.2 L1041.1,357.1 L1044.0,355.0 L1047.0,352.9 L1050.1,350.7 L1053.2,348.6 L1056.5,346.4 L1059.9,344.3 L1063.4,342.2 L1067.0,340.1 L1070.7,338.0 L1074.6,335.9 L1078.6,333.9 L1082.7,331.9 L1087.0,329.9 L1091.3,327.9 L1095.8,326.0 L1100.4,324.0 L1105.1,322.1 L1109.8,320.2 L1114.7,318.3 L1119.7,316.5 L1124.7,314.6 L1129.8,312.8 L1135.1,311.0 L1140.3,309.2 L1145.7,307.4 L1151.1,305.6 L1156.6,303.9 L1162.1,302.1 L1167.7,300.4 L1173.4,298.7 L1179.1,297.0 L1184.8,295.3 L1190.6,293.7 L1196.4,292.0 L1202.2,290.3 L1208.1,288.7 L1214.0,287.1 L1220.0,285.4 L1226.0,283.8 L1232.0,282.2 L1238.1,280.6 L1244.2,279.0 L1250.4,277.4 L1256.6,275.8 L1262.9,274.2 L1269.2,272.6 L1275.5,271.1 L1281.9,269.5 L1288.4,267.9 L1294.9,266.3 L1301.4,264.7 L1308.0,263.1 L1314.6,261.5 L1321.3,259.9 L1328.1,258.3 L1334.9,256.7 L1341.7,255.1 L1348.6,253.5 L1355.5,251.9 L1362.4,250.3 L1369.4,248.7 L1376.3,247.2 L1383.2,245.7 L1390.1,244.2 L1396.9,242.7 L1403.7,241.3 L1410.5,240.0 L1417.1,238.7 L1423.7,237.4 L1430.2,236.3 L1436.5,235.2 L1442.8,234.2 L1448.9,233.2 L1454.9,232.4 L1460.7,231.7 L1466.4,231.0 L1471.9,230.5 L1477.2,230.1 L1482.3,229.8 L1487.2,229.7 L1491.9,229.6 L1496.4,229.7 L1500.7,229.9 L1504.9,230.1 L1509.0,230.4 L1513.0,230.7 L1517.0,231.0 L1520.9,231.3 L1524.9,231.6 L1528.9,231.8 L1533.0,231.9 L1537.2,232.0 L1541.5,231.9 L1545.9,231.7 L1550.6,231.3 L1555.4,230.7 L1560.6,229.9 L1565.9,228.9 L1571.6,227.7 L1577.7,226.1 L1584.1,224.3 L1590.8,222.2 L1598.0,219.8 L1605.7,217.0" fill="none" stroke="#000000" stroke-width="2.9" stroke-dasharray="9 6.7"/>
</g>
<rect x="308" y="72" width="6" height="1124" fill="#000"/>
<rect x="287" y="1171" width="1555" height="5" fill="#000"/>
<rect x="287" y="1171.0" width="21" height="5" fill="#000"/>
<rect x="287" y="951.2" width="21" height="5" fill="#000"/>
<rect x="287" y="731.4" width="21" height="5" fill="#000"/>
<rect x="287" y="511.6" width="21" height="5" fill="#000"/>
<rect x="287" y="291.8" width="21" height="5" fill="#000"/>
<rect x="287" y="72.0" width="21" height="5" fill="#000"/>
<rect x="299" y="1061.1" width="9" height="5" fill="#000"/>
<rect x="299" y="841.3" width="9" height="5" fill="#000"/>
<rect x="299" y="621.5" width="9" height="5" fill="#000"/>
<rect x="299" y="401.7" width="9" height="5" fill="#000"/>
<rect x="299" y="181.9" width="9" height="5" fill="#000"/>
<rect x="308.2" y="1176" width="5.6" height="20" fill="#000"/>
<rect x="563.0" y="1176" width="5.6" height="20" fill="#000"/>
<rect x="817.7" y="1176" width="5.6" height="20" fill="#000"/>
<rect x="1072.5" y="1176" width="5.6" height="20" fill="#000"/>
<rect x="1327.2" y="1176" width="5.6" height="20" fill="#000"/>
<rect x="1582.0" y="1176" width="5.6" height="20" fill="#000"/>
<rect x="1836.7" y="1176" width="5.6" height="20" fill="#000"/>
<rect x="435.9" y="1176" width="5" height="9" fill="#000"/>
<rect x="690.6" y="1176" width="5" height="9" fill="#000"/>
<rect x="945.4" y="1176" width="5" height="9" fill="#000"/>
<rect x="1200.1" y="1176" width="5" height="9" fill="#000"/>
<rect x="1454.9" y="1176" width="5" height="9" fill="#000"/>
<rect x="1709.6" y="1176" width="5" height="9" fill="#000"/>
<g filter="url(#bw)">
<text x="270" y="1195.0" font-family="&quot;Liberation Sans&quot;, Arial, sans-serif" style="font-kerning:none" font-size="71.5" text-anchor="end">0</text>
<text x="270" y="975.2" font-family="&quot;Liberation Sans&quot;, Arial, sans-serif" style="font-kerning:none" font-size="71.5" text-anchor="end">20</text>
<text x="270" y="755.4" font-family="&quot;Liberation Sans&quot;, Arial, sans-serif" style="font-kerning:none" font-size="71.5" text-anchor="end">40</text>
<text x="270" y="535.6" font-family="&quot;Liberation Sans&quot;, Arial, sans-serif" style="font-kerning:none" font-size="71.5" text-anchor="end">60</text>
<text x="270" y="315.8" font-family="&quot;Liberation Sans&quot;, Arial, sans-serif" style="font-kerning:none" font-size="71.5" text-anchor="end">80</text>
<text x="270" y="96.0" font-family="&quot;Liberation Sans&quot;, Arial, sans-serif" style="font-kerning:none" font-size="71.5" text-anchor="end">100</text>
<text x="311.0" y="1267" font-family="&quot;Liberation Sans&quot;, Arial, sans-serif" style="font-kerning:none" font-size="71.5" text-anchor="middle">0</text>
<text x="567.8" y="1267" font-family="&quot;Liberation Sans&quot;, Arial, sans-serif" style="font-kerning:none" font-size="71.5" text-anchor="middle">1</text>
<text x="820.5" y="1267" font-family="&quot;Liberation Sans&quot;, Arial, sans-serif" style="font-kerning:none" font-size="71.5" text-anchor="middle">2</text>
<text x="1075.2" y="1267" font-family="&quot;Liberation Sans&quot;, Arial, sans-serif" style="font-kerning:none" font-size="71.5" text-anchor="middle">3</text>
<text x="1330.0" y="1267" font-family="&quot;Liberation Sans&quot;, Arial, sans-serif" style="font-kerning:none" font-size="71.5" text-anchor="middle">4</text>
<text x="1584.8" y="1267" font-family="&quot;Liberation Sans&quot;, Arial, sans-serif" style="font-kerning:none" font-size="71.5" text-anchor="middle">5</text>
<text x="1839.5" y="1267" font-family="&quot;Liberation Sans&quot;, Arial, sans-serif" style="font-kerning:none" font-size="71.5" text-anchor="middle">6</text>
<text transform="translate(97.3,630) rotate(-90)" font-family="&quot;Liberation Sans&quot;, Arial, sans-serif" style="font-kerning:none" font-size="91" text-anchor="middle">CP conversion, %</text>
<text x="1032.5" y="1371" font-family="&quot;Liberation Sans&quot;, Arial, sans-serif" style="font-kerning:none" font-size="91" letter-spacing="2.0" text-anchor="middle">Time, h</text>
<text transform="translate(1800.5,211) scale(0.97,1)" font-family="&quot;Liberation Sans&quot;, Arial, sans-serif" style="font-kerning:none" font-size="94" font-weight="bold" text-anchor="middle">D</text>
<text transform="translate(1794.5,404) scale(0.97,1)" font-family="&quot;Liberation Sans&quot;, Arial, sans-serif" style="font-kerning:none" font-size="94" font-weight="bold" text-anchor="middle">A</text>
<text x="1050.5" y="877" font-family="&quot;Liberation Sans&quot;, Arial, sans-serif" style="font-kerning:none" font-size="91" letter-spacing="2.0">Additives:</text>
<text x="1501" y="989.5" font-family="&quot;Liberation Sans&quot;, Arial, sans-serif" style="font-kerning:none" font-size="91" letter-spacing="3">none</text>
<text x="1500.4" y="1099.5" font-family="&quot;Liberation Sans&quot;, Arial, sans-serif" style="font-kerning:none" font-size="91" letter-spacing="2.3">epoxide</text>
</g>
<rect x="553" y="1261" width="13" height="7" fill="#fff"/><rect x="572" y="1261" width="13" height="7" fill="#fff"/>
<rect x="155" y="90" width="14" height="7" fill="#fff"/><rect x="175" y="90" width="13" height="7" fill="#fff"/>
<rect x="1135.9" y="935.6" width="44.2" height="42.0" fill="#800000"/>
<ellipse cx="1368.8" cy="956.4" rx="25.0" ry="24.2" fill="#000"/>
<rect x="1135.9" y="1046.8" width="44.2" height="42.0" fill="#800000"/><rect x="1140.1" y="1050.7" width="35.8" height="34.2" fill="#fff"/>
<ellipse cx="1368.8" cy="1068.0" rx="23.0" ry="22.2" fill="#fff" stroke="#000" stroke-width="4.0"/>
</svg></body></html>
